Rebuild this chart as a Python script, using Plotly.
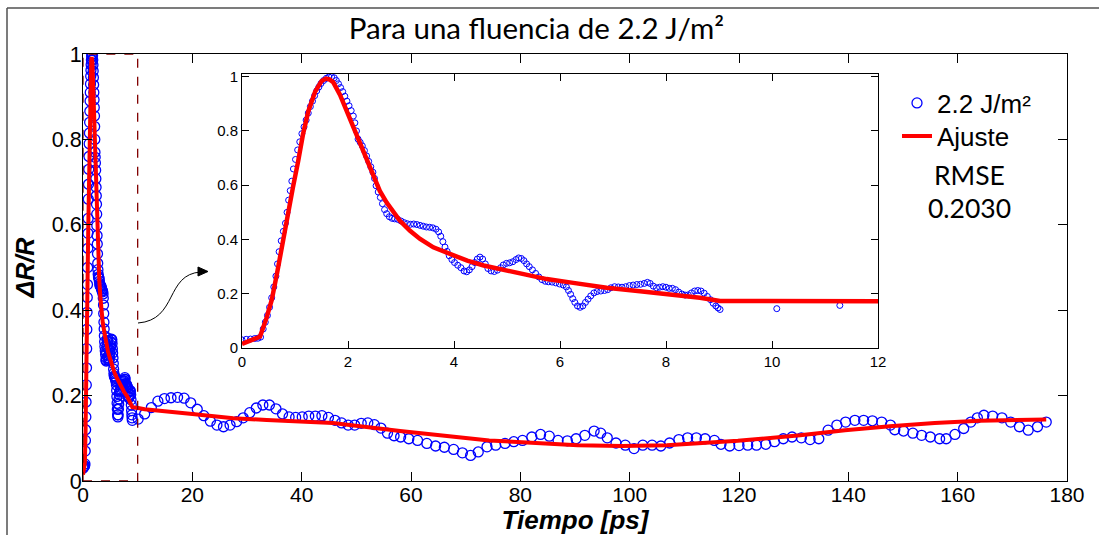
import plotly.graph_objects as go

W, H = 1099, 535

# ---------------- data ----------------
# measured signal (dense part, read from the inset)
t_dense = [0.00, 0.08, 0.16, 0.24, 0.30, 0.35, 0.40, 0.44, 0.48, 0.52, 0.56, 0.60, 0.64, 0.67, 0.70,
           0.74, 0.78, 0.82, 0.85, 0.88, 0.91, 0.94, 0.97, 1.01, 1.05, 1.09, 1.13, 1.17, 1.21, 1.25,
           1.29, 1.33, 1.37, 1.41, 1.45, 1.49, 1.54, 1.59, 1.64, 1.69, 1.74, 1.78, 1.82, 1.86, 1.90,
           1.94, 1.98, 2.02, 2.06, 2.10, 2.13, 2.16, 2.19, 2.23, 2.27, 2.31, 2.35, 2.39, 2.43, 2.47,
           2.50, 2.53, 2.57, 2.61, 2.65, 2.69, 2.73, 2.78, 2.83, 2.88, 2.94, 3.00, 3.06, 3.12, 3.18,
           3.24, 3.30, 3.36, 3.42, 3.48, 3.54, 3.60, 3.66, 3.71, 3.75, 3.79, 3.83, 3.87, 3.91, 3.96,
           4.01, 4.07, 4.13, 4.19, 4.24, 4.29, 4.34, 4.39, 4.44, 4.49, 4.54, 4.59, 4.64, 4.70, 4.76,
           4.82, 4.88, 4.93, 4.99, 5.05, 5.11, 5.17, 5.22, 5.27, 5.32, 5.37, 5.42, 5.48, 5.54, 5.60,
           5.66, 5.72, 5.78, 5.85, 5.92, 5.99, 6.06, 6.12, 6.16, 6.20, 6.24, 6.28, 6.33, 6.38, 6.43,
           6.48, 6.53, 6.58, 6.64, 6.70, 6.77, 6.84, 6.90, 6.96, 7.03, 7.10, 7.17, 7.24, 7.31, 7.38,
           7.45, 7.52, 7.59, 7.65, 7.70, 7.76, 7.82, 7.88, 7.94, 8.00, 8.06, 8.12, 8.18, 8.24, 8.30,
           8.36, 8.42, 8.48, 8.54, 8.60, 8.66, 8.72, 8.78, 8.84, 8.89, 8.94, 8.98, 9.02]
r_dense = [0.030, 0.032, 0.033, 0.035, 0.036, 0.040, 0.070, 0.095, 0.120, 0.150, 0.185, 0.225, 0.265, 0.310, 0.355,
           0.395, 0.430, 0.460, 0.500, 0.545, 0.580, 0.615, 0.660, 0.695, 0.730, 0.760, 0.790, 0.815, 0.840, 0.866,
           0.890, 0.910, 0.930, 0.948, 0.962, 0.975, 0.986, 0.994, 0.999, 1.000, 0.996, 0.986, 0.974, 0.960, 0.945,
           0.928, 0.910, 0.893, 0.875, 0.855, 0.830, 0.800, 0.770, 0.758, 0.745, 0.728, 0.708, 0.688, 0.668, 0.648,
           0.625, 0.598, 0.575, 0.555, 0.532, 0.510, 0.495, 0.484, 0.478, 0.476, 0.474, 0.468, 0.462, 0.458, 0.456,
           0.457, 0.455, 0.452, 0.449, 0.446, 0.445, 0.443, 0.438, 0.428, 0.412, 0.392, 0.372, 0.356, 0.340, 0.326,
           0.315, 0.305, 0.296, 0.284, 0.281, 0.288, 0.300, 0.315, 0.328, 0.335, 0.328, 0.310, 0.293, 0.284, 0.282,
           0.287, 0.296, 0.306, 0.312, 0.314, 0.318, 0.326, 0.332, 0.330, 0.322, 0.310, 0.300, 0.288, 0.275, 0.262,
           0.252, 0.246, 0.244, 0.243, 0.240, 0.236, 0.232, 0.225, 0.212, 0.198, 0.182, 0.168, 0.155, 0.150, 0.155,
           0.168, 0.180, 0.192, 0.203, 0.208, 0.210, 0.212, 0.215, 0.222, 0.226, 0.225, 0.224, 0.226, 0.230, 0.232,
           0.234, 0.235, 0.238, 0.242, 0.238, 0.228, 0.222, 0.224, 0.226, 0.224, 0.220, 0.220, 0.215, 0.206, 0.199,
           0.195, 0.196, 0.203, 0.210, 0.212, 0.210, 0.202, 0.190, 0.178, 0.165, 0.155, 0.148, 0.142]

# measured signal (sparse tail)
t_tail = [10.09, 11.28, 12.5, 13.7, 14.9, 16.1, 17.3, 18.5, 19.7, 20.9, 22.1, 23.3, 24.5, 25.7, 26.9,
          28.1, 29.3, 30.5, 31.7, 32.9, 34.1, 35.3, 36.5, 37.7, 38.9, 40.1, 41.3, 42.5, 43.7, 44.9,
          46.1, 47.3, 48.5, 49.7, 50.9, 52.1, 53.3, 54.5, 55.7, 56.9, 58.1, 59.6, 61.2, 62.9, 64.5,
          66.1, 67.8, 69.4, 70.9, 72.3, 73.9, 75.5, 77.2, 78.8, 80.4, 82.1, 83.7, 85.3, 86.9, 88.6,
          90.2, 91.8, 93.5, 94.7, 95.9, 97.5, 99.2, 100.8, 102.4, 104.1, 105.7, 107.3, 109.0, 110.6, 112.2,
          113.8, 115.5, 116.7, 118.3, 120.0, 121.6, 123.2, 124.9, 126.5, 128.1, 129.7, 131.4, 133.0, 134.6, 136.3,
          137.9, 139.5, 141.2, 142.8, 144.4, 146.1, 147.7, 148.5, 150.1, 151.8, 153.4, 155.0, 156.7, 157.9, 159.5,
          161.1, 162.4, 163.6, 164.8, 166.4, 168.1, 169.7, 171.3, 172.9, 174.6, 176.2]
r_tail = [0.145, 0.157, 0.172, 0.187, 0.193, 0.195, 0.196, 0.194, 0.183, 0.168, 0.153, 0.140, 0.131, 0.127, 0.131,
          0.139, 0.148, 0.160, 0.171, 0.178, 0.178, 0.169, 0.157, 0.150, 0.149, 0.150, 0.152, 0.152, 0.153, 0.149,
          0.142, 0.136, 0.131, 0.131, 0.135, 0.136, 0.132, 0.124, 0.112, 0.106, 0.103, 0.099, 0.095, 0.088, 0.082,
          0.079, 0.074, 0.066, 0.060, 0.068, 0.080, 0.084, 0.088, 0.092, 0.095, 0.103, 0.109, 0.105, 0.095, 0.094,
          0.099, 0.107, 0.117, 0.112, 0.101, 0.089, 0.084, 0.076, 0.084, 0.084, 0.082, 0.089, 0.097, 0.101, 0.101,
          0.099, 0.095, 0.086, 0.082, 0.083, 0.084, 0.084, 0.086, 0.092, 0.099, 0.103, 0.101, 0.097, 0.099, 0.119,
          0.131, 0.138, 0.142, 0.142, 0.141, 0.138, 0.131, 0.120, 0.117, 0.112, 0.107, 0.103, 0.099, 0.099, 0.109,
          0.123, 0.138, 0.148, 0.154, 0.152, 0.148, 0.138, 0.127, 0.119, 0.127, 0.138]

t_data = t_dense + t_tail
r_data = r_dense + r_tail

# fitted curve ("Ajuste")
t_fit = [0.00, 0.34, 0.46, 0.56, 0.66, 0.77, 0.86, 0.96, 1.06, 1.15, 1.25, 1.38, 1.50, 1.58, 1.65,
         1.72, 1.85, 1.98, 2.10, 2.23, 2.35, 2.48, 2.60, 2.73, 2.86, 2.98, 3.17, 3.36, 3.61, 3.93,
         4.25, 4.56, 4.87, 5.19, 5.50, 5.75, 6.25, 6.88, 7.51, 8.14, 8.64, 9.02, 10.09, 11.28, 20.0,
         27.5, 33.6, 45.7, 58.0, 74.3, 90.5, 98.6, 106.8, 119.8, 131.2, 139.4, 147.6, 155.8, 164.0, 176.2]
r_fit = [0.015, 0.042, 0.109, 0.176, 0.274, 0.396, 0.494, 0.591, 0.689, 0.787, 0.872, 0.945, 0.984, 0.993, 0.990,
         0.980, 0.933, 0.872, 0.811, 0.750, 0.689, 0.634, 0.579, 0.536, 0.499, 0.469, 0.432, 0.402, 0.371, 0.347,
         0.322, 0.304, 0.290, 0.276, 0.262, 0.254, 0.240, 0.222, 0.209, 0.197, 0.185, 0.173, 0.171, 0.168, 0.157,
         0.147, 0.143, 0.136, 0.117, 0.095, 0.084, 0.082, 0.084, 0.094, 0.107, 0.119, 0.128, 0.136, 0.141, 0.144]

zoom_window_t = [0, 10]
zoom_window_r = [0, 1]

title_text = "Para una fluencia de 2.2 J/m²"
legend_data = "2.2 J/m²"
legend_fit = "Ajuste"
rmse_label = "RMSE"
rmse_value = "0.2030"

BLUE = "#0000FF"
RED = "#FF0000"
TICKFONT = "Liberation Sans"


def px(x):
    return x / W


def py(y):
    return 1 - y / H


fig = go.Figure()

# main axes
fig.add_trace(go.Scatter(x=t_data, y=r_data, mode="markers", name=legend_data, legend="legend",
                         marker=dict(symbol="circle-open", size=10, color=BLUE, line=dict(width=1.3, color=BLUE)),
                         xaxis="x", yaxis="y"))
fig.add_trace(go.Scatter(x=t_fit, y=r_fit, mode="lines", name=legend_fit, legend="legend2",
                         line=dict(color=RED, width=4), xaxis="x", yaxis="y"))
# inset
fig.add_trace(go.Scatter(x=t_data, y=r_data, mode="markers", showlegend=False,
                         marker=dict(symbol="circle-open", size=6, color=BLUE, line=dict(width=1, color=BLUE)),
                         xaxis="x2", yaxis="y2"))
fig.add_trace(go.Scatter(x=t_fit, y=r_fit, mode="lines", showlegend=False,
                         line=dict(color=RED, width=4.5), xaxis="x2", yaxis="y2"))

axis_common = dict(showgrid=False, zeroline=False, showline=True, linecolor="black", linewidth=1,
                   ticks="inside", mirror="ticks", tickcolor="black", tickwidth=1, automargin=False)

legend_common = dict(xanchor="left", yanchor="middle", bgcolor="rgba(0,0,0,0)", borderwidth=0,
                     font=dict(family=TICKFONT, size=26, color="black"))

fig.update_layout(
    width=W, height=H, margin=dict(l=0, r=0, t=0, b=0, autoexpand=False),
    paper_bgcolor="white", plot_bgcolor="white",
    showlegend=True,
    title=dict(text=title_text, x=px(536.5), xanchor="center", xref="paper",
               y=py(29), yanchor="middle", yref="container", automargin=False,
               font=dict(family="Lato", size=29.5, color="black")),
    xaxis=dict(domain=[px(83), px(1067)], range=[0, 180], dtick=20, ticklen=9, ticklabelstandoff=-5,
               tickfont=dict(family=TICKFONT, size=21, color="black"),
               title=dict(text="Tiempo [ps]", standoff=3,
                          font=dict(family=TICKFONT, size=26, color="black", weight="bold", style="italic")),
               anchor="y", **axis_common),
    yaxis=dict(domain=[py(481), py(54)], range=[0, 1], dtick=0.2, ticklen=9, ticklabelstandoff=-4,
               tickfont=dict(family=TICKFONT, size=21.5, color="black"),
               title=dict(text="ΔR/R", standoff=10,
                          font=dict(family=TICKFONT, size=25, color="black", weight="bold", style="italic")),
               anchor="x", **axis_common),
    xaxis2=dict(domain=[px(242), px(878)], range=[0, 12], dtick=2, ticklen=7,
                tickfont=dict(family=TICKFONT, size=15, color="black"), anchor="y2", **axis_common),
    yaxis2=dict(domain=[py(348), py(74)], range=[0, 1.01], tickvals=[0, 0.2, 0.4, 0.6, 0.8, 1], ticklen=7,
                tickfont=dict(family=TICKFONT, size=15, color="black"), anchor="x2", **axis_common),
    legend=dict(x=px(897), y=py(103), **legend_common),
    legend2=dict(x=px(897), y=py(136), **legend_common),
)

# RMSE text
fig.add_annotation(text=rmse_label, x=px(969), y=py(175), xref="paper", yref="paper", showarrow=False,
                   xanchor="center", yanchor="middle", font=dict(family="Lato", size=26.5, color="black"))
fig.add_annotation(text=rmse_value, x=px(969), y=py(208), xref="paper", yref="paper", showarrow=False,
                   xanchor="center", yanchor="middle", font=dict(family="Lato", size=26.5, color="black"))

# dashed zoom window
fig.add_shape(type="rect", xref="x", yref="y", x0=zoom_window_t[0], x1=zoom_window_t[1],
              y0=zoom_window_r[0], y1=zoom_window_r[1],
              line=dict(color="#800000", width=1.3, dash="dash"), layer="above")

# curved arrow
path = "M {:.5f} {:.5f} C {:.5f} {:.5f}, {:.5f} {:.5f}, {:.5f} {:.5f}".format(
    px(138), py(323), px(178), py(320), px(165), py(274), px(201), py(272))
fig.add_shape(type="path", xref="paper", yref="paper", path=path, line=dict(color="black", width=1))
tri = "M {:.5f} {:.5f} L {:.5f} {:.5f} L {:.5f} {:.5f} Z".format(
    px(208), py(271.5), px(198), py(267), px(198), py(276))
fig.add_shape(type="path", xref="paper", yref="paper", path=tri, line=dict(color="black", width=1),
              fillcolor="black")

# outer frame
fig.add_shape(type="line", xref="paper", yref="paper", x0=px(7), x1=px(7), y0=0, y1=py(8),
              line=dict(color="#505050", width=1.5))
fig.add_shape(type="line", xref="paper", yref="paper", x0=px(7), x1=1, y0=py(8), y1=py(8),
              line=dict(color="#505050", width=1.5))

fig.write_html("out.html")
